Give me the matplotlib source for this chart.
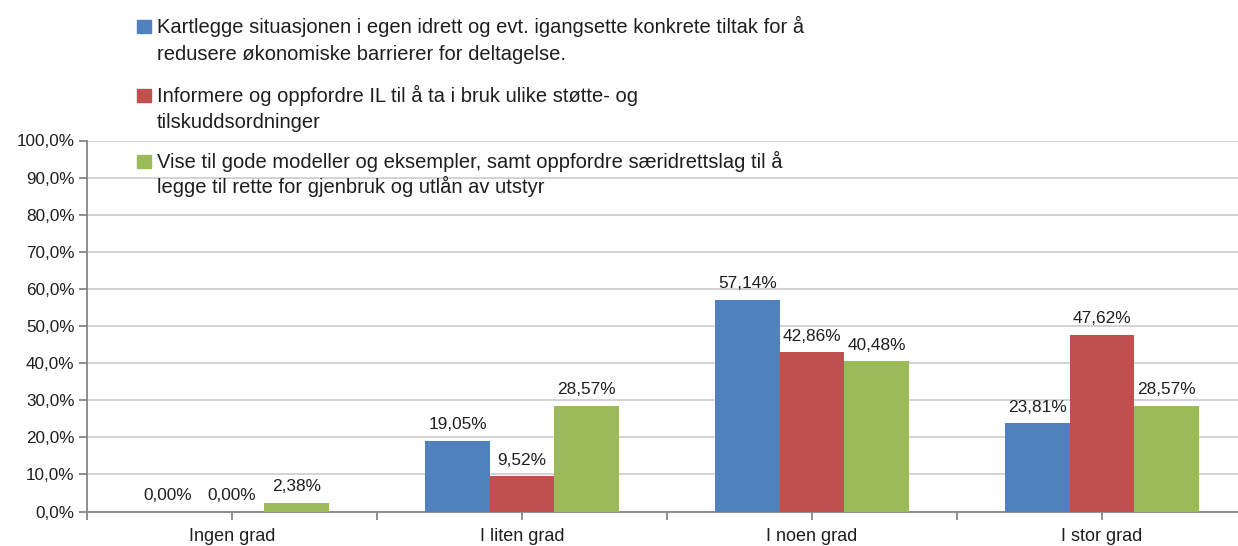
import matplotlib
matplotlib.use("Agg")
import matplotlib.pyplot as plt
from matplotlib.patches import Rectangle
from matplotlib.ticker import FixedLocator
import numpy as np

categories = ["Ingen grad", "I liten grad", "I noen grad", "I stor grad"]
series_names = [
    ["Kartlegge situasjonen i egen idrett og evt. igangsette konkrete tiltak for å",
     "redusere økonomiske barrierer for deltagelse."],
    ["Informere og oppfordre IL til å ta i bruk ulike støtte- og",
     "tilskuddsordninger"],
    ["Vise til gode modeller og eksempler, samt oppfordre særidrettslag til å",
     "legge til rette for gjenbruk og utlån av utstyr"],
]
kartlegge = [0.00, 19.05, 57.14, 23.81]
informere = [0.00, 9.52, 42.86, 47.62]
vise = [2.38, 28.57, 40.48, 28.57]
y_ticks = [0, 10, 20, 30, 40, 50, 60, 70, 80, 90, 100]

colors = ["#4F81BD", "#C0504D", "#9BBB59"]
TEXT = "#1e1e1e"
FONT = "Liberation Sans"
plt.rcParams["font.family"] = [FONT, "DejaVu Sans"]

W, H = 1238, 546
fig = plt.figure(figsize=(W / 100, H / 100), dpi=100)

def fx(px):
    return px / W

def fy(py):
    return 1 - py / H

left, right = 87, 1247
top, bottom = 140.5, 511.5
ax = fig.add_axes([fx(left), fy(bottom), fx(right - left), fy(top) - fy(bottom)])

x = np.arange(len(categories))
bw = 0.2224
all_series = [kartlegge, informere, vise]
for i, (vals, c) in enumerate(zip(all_series, colors)):
    pos = x + (i - 1) * bw
    ax.bar(pos, vals, width=bw, color=c, edgecolor="none", zorder=3)
    for xp, v in zip(pos, vals):
        ax.annotate(f"{v:.2f}%".replace(".", ","), (xp, v), xytext=(0, 6),
                    textcoords="offset points", ha="center", va="bottom",
                    fontsize=12.4, color=TEXT, zorder=4)

ax.set_xlim(-0.5, len(categories) - 0.5)
ax.set_ylim(0, 100)
ax.yaxis.set_major_locator(FixedLocator(y_ticks))
ax.set_yticklabels([f"{t:.1f}%".replace(".", ",") for t in y_ticks])
ax.set_xticks(x)
ax.set_xticklabels(categories)
ax.xaxis.set_minor_locator(FixedLocator(np.arange(-0.5, len(categories), 1.0)))

ax.grid(axis="y", color="#D0D0D0", linewidth=1.3, zorder=0)
ax.set_axisbelow(True)
for s in ["top", "right"]:
    ax.spines[s].set_visible(False)
for s in ["left", "bottom"]:
    ax.spines[s].set_color("#868686")
    ax.spines[s].set_linewidth(1.3)
ax.tick_params(axis="y", which="major", length=6, width=1.3, color="#868686",
               labelsize=12.3, labelcolor=TEXT, pad=3)
ax.tick_params(axis="x", which="both", length=6, width=1.3, color="#868686",
               labelsize=13, labelcolor=TEXT, pad=6)

# manual legend (handles aligned to first line of each entry)
entries_y = [(33, 60), (102, 128), (168, 193)]
for lines, c, (b1, b2) in zip(series_names, colors, entries_y):
    fig.patches.append(Rectangle((fx(137), fy(b1)), fx(14), fy(b1 - 13) - fy(b1),
                                 transform=fig.transFigure, color=c, zorder=5))
    for line, by in zip(lines, (b1, b2)):
        fig.text(fx(157), fy(by), line, ha="left", va="baseline", fontsize=14.5,
                 color=TEXT, zorder=6)

fig.savefig("out.png", dpi=100)
